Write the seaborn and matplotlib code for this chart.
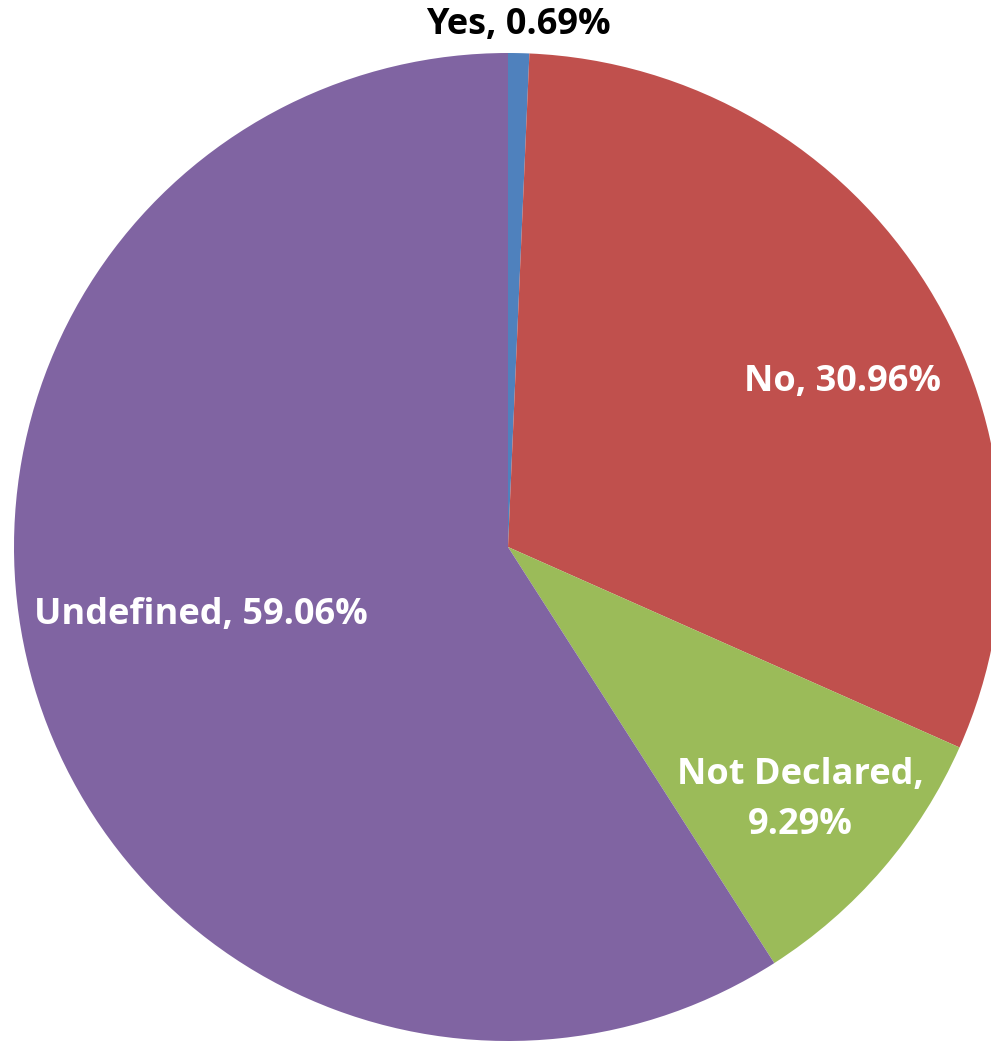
import matplotlib
matplotlib.use("Agg")
import matplotlib.pyplot as plt
import seaborn as sns

# -----------------------------
# Data
# -----------------------------

categories = ["Yes", "No", "Not Declared", "Undefined"]
shares = [0.69, 30.96, 9.29, 59.06]
colors = ["#4F81BD", "#C0504D", "#9BBB59", "#8064A2"]

label_text = ["Yes, 0.69%", "No, 30.96%", "Not Declared,\n9.29%", "Undefined, 59.06%"]
label_pos = [(518, 1016), (843, 659), (800, 241), (201, 426)]
label_color = ["black", "white", "white", "white"]

# -----------------------------
# Setup
# -----------------------------

sns.set_style("white")
plt.rcParams["font.family"] = ["Open Sans", "DejaVu Sans"]

W, H = 991, 1041
fig = plt.figure(figsize=(W / 100, H / 100), dpi=100)
ax = fig.add_axes([0, 0, 1, 1])

ax.pie(
    shares,
    colors=colors,
    startangle=90,
    counterclock=False,
    center=(508, H - 547),
    radius=494,
    wedgeprops=dict(linewidth=0),
)

for txt, (x, y), c in zip(label_text, label_pos, label_color):
    ax.text(x, y, txt, ha="center", va="center", color=c,
            fontsize=26, fontweight="bold", linespacing=1.5)

ax.set_xlim(0, W)
ax.set_ylim(0, H)
ax.set_aspect("equal")
ax.axis("off")

plt.savefig("out.png", dpi=100)
plt.close()
